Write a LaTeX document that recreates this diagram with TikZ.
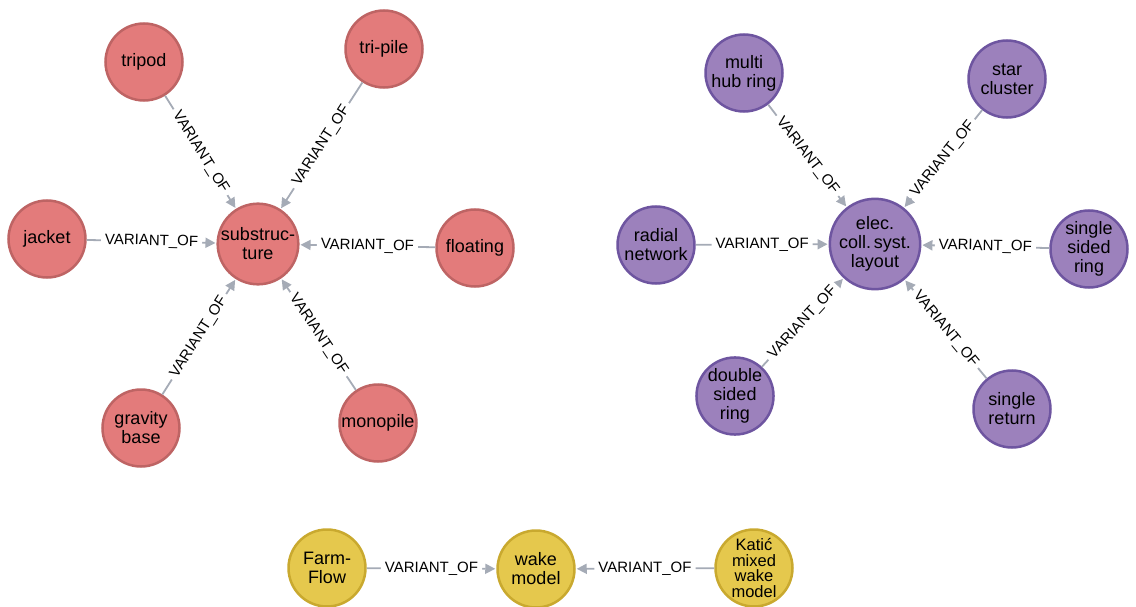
\documentclass[tikz,border=0pt]{standalone}
\usepackage{fontspec}
\setmainfont{Liberation Sans}
\usepackage{tikz}
\usetikzlibrary{arrows.meta}

\definecolor{redfill}{HTML}{E37B7B}
\definecolor{redline}{HTML}{BE6464}
\definecolor{purplefill}{HTML}{9C81BC}
\definecolor{purpleline}{HTML}{6E55A0}
\definecolor{yellowfill}{HTML}{E5C84D}
\definecolor{yellowline}{HTML}{C9A92F}
\definecolor{edgegray}{HTML}{A5ABB6}

\begin{document}
\begin{tikzpicture}[x=1pt, y=-1pt,
    entity/.style={circle, draw, line width=2.5pt, minimum size=77pt, inner sep=0pt, align=center, text=black, font=\fontsize{18pt}{19pt}\selectfont},
    rednode/.style={entity, fill=redfill, draw=redline},
    purplenode/.style={entity, fill=purplefill, draw=purpleline},
    yellownode/.style={entity, fill=yellowfill, draw=yellowline},
    rel/.style={draw, line width=1.8pt, color=edgegray, -{Triangle[length=10pt,width=10pt]}, shorten >=1pt},
    rellabel/.style={sloped, fill=white, text=black, inner sep=4pt, font=\fontsize{15pt}{15pt}\selectfont}]
    \useasboundingbox (0,0) rectangle (1136,607);
    % Place nodes
    \node [rednode] (sub) at (258,244) {substruc-\\ture};
    \node [rednode] (tripod) at (144,62) {tripod};
    \node [rednode] (tripile) at (384,49) {tri-pile};
    \node [rednode] (jacket) at (47,239) {jacket};
    \node [rednode] (floating) at (475,248) {floating};
    \node [rednode] (gravity) at (141,428) {gravity\\base};
    \node [rednode] (monopile) at (378,423) {monopile};

    \node [purplenode] (layout) at (875,244) {elec.\\coll.\,syst.\\layout};
    \node [purplenode] (multihub) at (744,73) {multi\\hub ring};
    \node [purplenode] (star) at (1007,79) {star\\cluster};
    \node [purplenode] (radial) at (656,245) {radial\\network};
    \node [purplenode] (singlesided) at (1089,249) {single\\sided\\ring};
    \node [purplenode] (doublesided) at (735,396) {double\\sided\\ring};
    \node [purplenode] (singlereturn) at (1012,409) {single\\return};

    \node [yellownode] (wake) at (536,569) {wake\\model};
    \node [yellownode] (farmflow) at (327,568) {Farm-\\Flow};
    \node [yellownode, font=\fontsize{16.5pt}{15.5pt}\selectfont] (katic) at (754,568) {Katić\\mixed\\wake\\model};

    % Draw edges
    \path [rel] (tripod) -- node [rellabel] {VARIANT\_OF} (sub);
    \path [rel] (tripile) -- node [rellabel] {VARIANT\_OF} (sub);
    \path [rel] (jacket) -- node [rellabel] {VARIANT\_OF} (sub);
    \path [rel] (floating) -- node [rellabel] {VARIANT\_OF} (sub);
    \path [rel] (gravity) -- node [rellabel] {VARIANT\_OF} (sub);
    \path [rel] (monopile) -- node [rellabel] {VARIANT\_OF} (sub);

    \path [rel] (multihub) -- node [rellabel] {VARIANT\_OF} (layout);
    \path [rel] (star) -- node [rellabel] {VARIANT\_OF} (layout);
    \path [rel] (radial) -- node [rellabel] {VARIANT\_OF} (layout);
    \path [rel] (singlesided) -- node [rellabel] {VARIANT\_OF} (layout);
    \path [rel] (doublesided) -- node [rellabel] {VARIANT\_OF} (layout);
    \path [rel] (singlereturn) -- node [rellabel] {VARIANT\_OF} (layout);

    \path [rel] (farmflow) -- node [rellabel] {VARIANT\_OF} (wake);
    \path [rel] (katic) -- node [rellabel] {VARIANT\_OF} (wake);
\end{tikzpicture}
\end{document}
